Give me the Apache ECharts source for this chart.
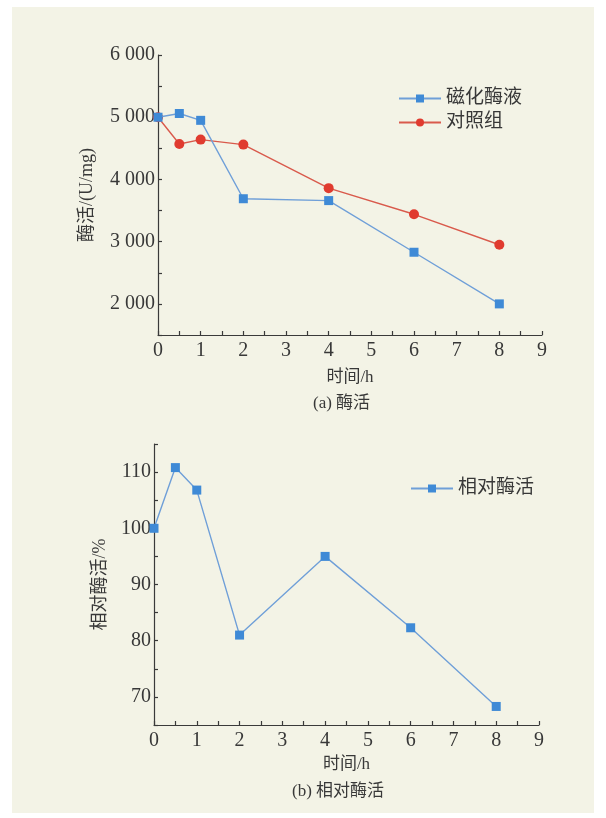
<!DOCTYPE html>
<html>
<head>
<meta charset="utf-8">
<script src="https://cdn.jsdelivr.net/npm/echarts@6/dist/echarts.min.js"></script>
<style>
  html, body { margin: 0; padding: 0; background: #ffffff; }
  #chart { width: 606px; height: 818px; }
</style>
</head>
<body>
<div id="chart"></div>
<script>
// Sampling times (h)
const hours = [0, 0.5, 1, 2, 4, 6, 8];
// Enzyme activity, U/mg
const magnetizedActivity = [5000, 5060, 4950, 3690, 3660, 2830, 2000];
const controlActivity = [5000, 4570, 4640, 4560, 3860, 3440, 2950];
// Relative activity, %
const relativeActivity = [100, 110.8, 106.8, 81, 95, 82.3, 68.3];

const seriesNamesTop = ['磁化酶液', '对照组'];
const seriesNameBottom = '相对酶活';

// Latin glyphs in a serif face, Chinese falls back to the CJK sans
const mixed = '"Liberation Serif", "Noto Sans CJK SC", serif';
const textColor = '#383838';
const axisColor = '#3a3a3a';
const blueLine = '#6f9fd8';
const blueMark = '#3f8ad6';
const redLine = '#d95a4c';
const redMark = '#e03b2f';

function pairs(xs, ys) { return xs.map((x, i) => [x, ys[i]]); }

function thousand(v) {
  const s = String(Math.round(v));
  return s.length > 3 ? s.slice(0, -3) + ' ' + s.slice(-3) : s;
}

function xAxisFor(gridIndex, gap) {
  return {
    type: 'value', gridIndex, min: 0, max: 9, interval: 0.5,
    name: '时间/h', nameLocation: 'middle', nameGap: gap,
    nameTextStyle: { fontFamily: mixed, fontSize: 17, color: textColor },
    axisLine: { lineStyle: { color: axisColor, width: 1.2 } },
    axisTick: { inside: true, length: 4, lineStyle: { color: axisColor, width: 1.2 } },
    axisLabel: {
      fontFamily: mixed, fontSize: 20, color: textColor, margin: 6,
      formatter: v => (Number.isInteger(v) ? String(v) : '')
    },
    splitLine: { show: false }
  };
}

const chart = echarts.init(document.getElementById('chart'), null, { renderer: 'canvas' });

chart.setOption({
  backgroundColor: 'transparent',
  animation: false,
  graphic: [
    { type: 'rect', z: -10, shape: { x: 12, y: 7, width: 582, height: 806 }, style: { fill: '#f3f3e6' } },
    { type: 'text', left: 313, top: 395, style: { text: '(a) 酶活', font: '17px ' + mixed, fill: textColor } },
    { type: 'text', left: 292, top: 783, style: { text: '(b) 相对酶活', font: '17px ' + mixed, fill: textColor } }
  ],
  grid: [
    { left: 158, top: 55, width: 384, height: 280 },
    { left: 154, top: 444, width: 385, height: 281 }
  ],
  legend: [
    {
      data: seriesNamesTop, orient: 'vertical', left: 393, top: 84,
      itemWidth: 42, itemHeight: 10, itemGap: 5,
      textStyle: { fontFamily: mixed, fontSize: 19, color: textColor }
    },
    {
      data: [seriesNameBottom], left: 405, top: 474,
      itemWidth: 42, itemHeight: 10,
      textStyle: { fontFamily: mixed, fontSize: 19, color: textColor }
    }
  ],
  xAxis: [xAxisFor(0, 34), xAxisFor(1, 31)],
  yAxis: [
    {
      type: 'value', gridIndex: 0, min: 1500, max: 6000, interval: 500,
      name: '酶活/(U/mg)', nameLocation: 'middle', nameGap: 62,
      nameTextStyle: { fontFamily: mixed, fontSize: 18, color: textColor },
      axisLine: { show: true, lineStyle: { color: axisColor, width: 1.2 } },
      axisTick: { show: true, inside: true, length: 4, lineStyle: { color: axisColor, width: 1.2 } },
      axisLabel: {
        fontFamily: mixed, fontSize: 20, color: textColor, margin: 3,
        formatter: v => (v % 1000 === 0 ? thousand(v) : '')
      },
      splitLine: { show: false }
    },
    {
      type: 'value', gridIndex: 1, min: 65, max: 115, interval: 5,
      name: '相对酶活/%', nameLocation: 'middle', nameGap: 45,
      nameTextStyle: { fontFamily: mixed, fontSize: 18, color: textColor },
      axisLine: { show: true, lineStyle: { color: axisColor, width: 1.2 } },
      axisTick: { show: true, inside: true, length: 4, lineStyle: { color: axisColor, width: 1.2 } },
      axisLabel: {
        fontFamily: mixed, fontSize: 20, color: textColor, margin: 3,
        formatter: v => (v % 10 === 0 ? String(v) : '')
      },
      splitLine: { show: false }
    }
  ],
  series: [
    {
      name: seriesNamesTop[0], type: 'line', xAxisIndex: 0, yAxisIndex: 0,
      data: pairs(hours, magnetizedActivity),
      symbol: 'rect', symbolSize: 9, z: 3,
      lineStyle: { color: blueLine, width: 1.4 },
      itemStyle: { color: blueMark }
    },
    {
      name: seriesNamesTop[1], type: 'line', xAxisIndex: 0, yAxisIndex: 0,
      data: pairs(hours, controlActivity),
      symbol: 'circle', symbolSize: 10, z: 2,
      lineStyle: { color: redLine, width: 1.4 },
      itemStyle: { color: redMark }
    },
    {
      name: seriesNameBottom, type: 'line', xAxisIndex: 1, yAxisIndex: 1,
      data: pairs(hours, relativeActivity),
      symbol: 'rect', symbolSize: 9,
      lineStyle: { color: blueLine, width: 1.4 },
      itemStyle: { color: blueMark }
    }
  ]
});
</script>
</body>
</html>
